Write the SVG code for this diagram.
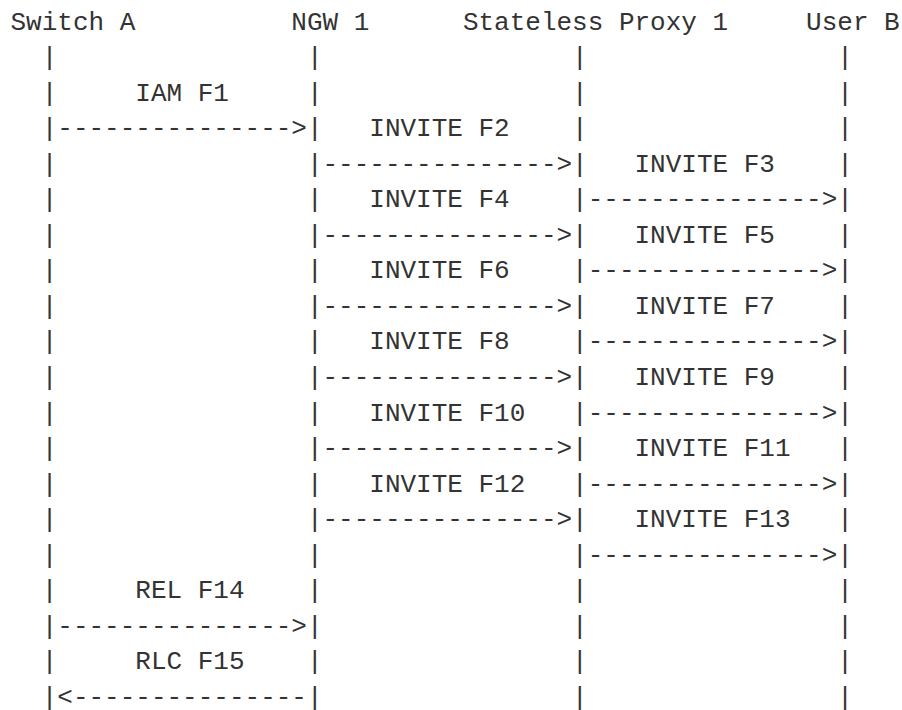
<svg xmlns="http://www.w3.org/2000/svg" width="902" height="710" viewBox="0 0 902 710">
<style>
text{font-family:"Liberation Mono","DejaVu Sans Mono",monospace;font-size:26px;fill:#333;white-space:pre}
</style>
<rect width="902" height="710" fill="#fff"/>
<g id="switch-a">
<text x="10.5" y="29.5">Switch A</text>
<text><tspan x="41.7" y="65.05">|</tspan><tspan x="41.7" y="100.6">|</tspan><tspan x="41.7" y="136.15">|</tspan><tspan x="41.7" y="171.7">|</tspan><tspan x="41.7" y="207.25">|</tspan><tspan x="41.7" y="242.8">|</tspan><tspan x="41.7" y="278.35">|</tspan><tspan x="41.7" y="313.9">|</tspan><tspan x="41.7" y="349.45">|</tspan><tspan x="41.7" y="385">|</tspan><tspan x="41.7" y="420.55">|</tspan><tspan x="41.7" y="456.1">|</tspan><tspan x="41.7" y="491.65">|</tspan><tspan x="41.7" y="527.2">|</tspan><tspan x="41.7" y="562.75">|</tspan><tspan x="41.7" y="598.3">|</tspan><tspan x="41.7" y="633.85">|</tspan><tspan x="41.7" y="669.4">|</tspan><tspan x="41.7" y="704.95">|</tspan></text>
</g>
<g id="ngw-1">
<text x="291.3" y="29.5">NGW 1</text>
<text><tspan x="306.9" y="65.05">|</tspan><tspan x="306.9" y="100.6">|</tspan><tspan x="306.9" y="136.15">|</tspan><tspan x="306.9" y="171.7">|</tspan><tspan x="306.9" y="207.25">|</tspan><tspan x="306.9" y="242.8">|</tspan><tspan x="306.9" y="278.35">|</tspan><tspan x="306.9" y="313.9">|</tspan><tspan x="306.9" y="349.45">|</tspan><tspan x="306.9" y="385">|</tspan><tspan x="306.9" y="420.55">|</tspan><tspan x="306.9" y="456.1">|</tspan><tspan x="306.9" y="491.65">|</tspan><tspan x="306.9" y="527.2">|</tspan><tspan x="306.9" y="562.75">|</tspan><tspan x="306.9" y="598.3">|</tspan><tspan x="306.9" y="633.85">|</tspan><tspan x="306.9" y="669.4">|</tspan><tspan x="306.9" y="704.95">|</tspan></text>
</g>
<g id="stateless-proxy-1">
<text x="462.9" y="29.5">Stateless Proxy 1</text>
<text><tspan x="572.1" y="65.05">|</tspan><tspan x="572.1" y="100.6">|</tspan><tspan x="572.1" y="136.15">|</tspan><tspan x="572.1" y="171.7">|</tspan><tspan x="572.1" y="207.25">|</tspan><tspan x="572.1" y="242.8">|</tspan><tspan x="572.1" y="278.35">|</tspan><tspan x="572.1" y="313.9">|</tspan><tspan x="572.1" y="349.45">|</tspan><tspan x="572.1" y="385">|</tspan><tspan x="572.1" y="420.55">|</tspan><tspan x="572.1" y="456.1">|</tspan><tspan x="572.1" y="491.65">|</tspan><tspan x="572.1" y="527.2">|</tspan><tspan x="572.1" y="562.75">|</tspan><tspan x="572.1" y="598.3">|</tspan><tspan x="572.1" y="633.85">|</tspan><tspan x="572.1" y="669.4">|</tspan><tspan x="572.1" y="704.95">|</tspan></text>
</g>
<g id="user-b">
<text x="806.1" y="29.5">User B</text>
<text><tspan x="837.3" y="65.05">|</tspan><tspan x="837.3" y="100.6">|</tspan><tspan x="837.3" y="136.15">|</tspan><tspan x="837.3" y="171.7">|</tspan><tspan x="837.3" y="207.25">|</tspan><tspan x="837.3" y="242.8">|</tspan><tspan x="837.3" y="278.35">|</tspan><tspan x="837.3" y="313.9">|</tspan><tspan x="837.3" y="349.45">|</tspan><tspan x="837.3" y="385">|</tspan><tspan x="837.3" y="420.55">|</tspan><tspan x="837.3" y="456.1">|</tspan><tspan x="837.3" y="491.65">|</tspan><tspan x="837.3" y="527.2">|</tspan><tspan x="837.3" y="562.75">|</tspan><tspan x="837.3" y="598.3">|</tspan><tspan x="837.3" y="633.85">|</tspan><tspan x="837.3" y="669.4">|</tspan><tspan x="837.3" y="704.95">|</tspan></text>
</g>
<g id="connectors">
<text x="57.3" y="136.15">---------------&gt;</text>
<text x="322.5" y="171.7">---------------&gt;</text>
<text x="587.7" y="207.25">---------------&gt;</text>
<text x="322.5" y="242.8">---------------&gt;</text>
<text x="587.7" y="278.35">---------------&gt;</text>
<text x="322.5" y="313.9">---------------&gt;</text>
<text x="587.7" y="349.45">---------------&gt;</text>
<text x="322.5" y="385">---------------&gt;</text>
<text x="587.7" y="420.55">---------------&gt;</text>
<text x="322.5" y="456.1">---------------&gt;</text>
<text x="587.7" y="491.65">---------------&gt;</text>
<text x="322.5" y="527.2">---------------&gt;</text>
<text x="587.7" y="562.75">---------------&gt;</text>
<text x="57.3" y="633.85">---------------&gt;</text>
<text x="57.3" y="704.95">&lt;---------------</text>
</g>
<g id="labels">
<text x="135.3" y="100.6">IAM F1</text>
<text x="369.3" y="136.15">INVITE F2</text>
<text x="634.5" y="171.7">INVITE F3</text>
<text x="369.3" y="207.25">INVITE F4</text>
<text x="634.5" y="242.8">INVITE F5</text>
<text x="369.3" y="278.35">INVITE F6</text>
<text x="634.5" y="313.9">INVITE F7</text>
<text x="369.3" y="349.45">INVITE F8</text>
<text x="634.5" y="385">INVITE F9</text>
<text x="369.3" y="420.55">INVITE F10</text>
<text x="634.5" y="456.1">INVITE F11</text>
<text x="369.3" y="491.65">INVITE F12</text>
<text x="634.5" y="527.2">INVITE F13</text>
<text x="135.3" y="598.3">REL F14</text>
<text x="135.3" y="669.4">RLC F15</text>
</g>
</svg>
